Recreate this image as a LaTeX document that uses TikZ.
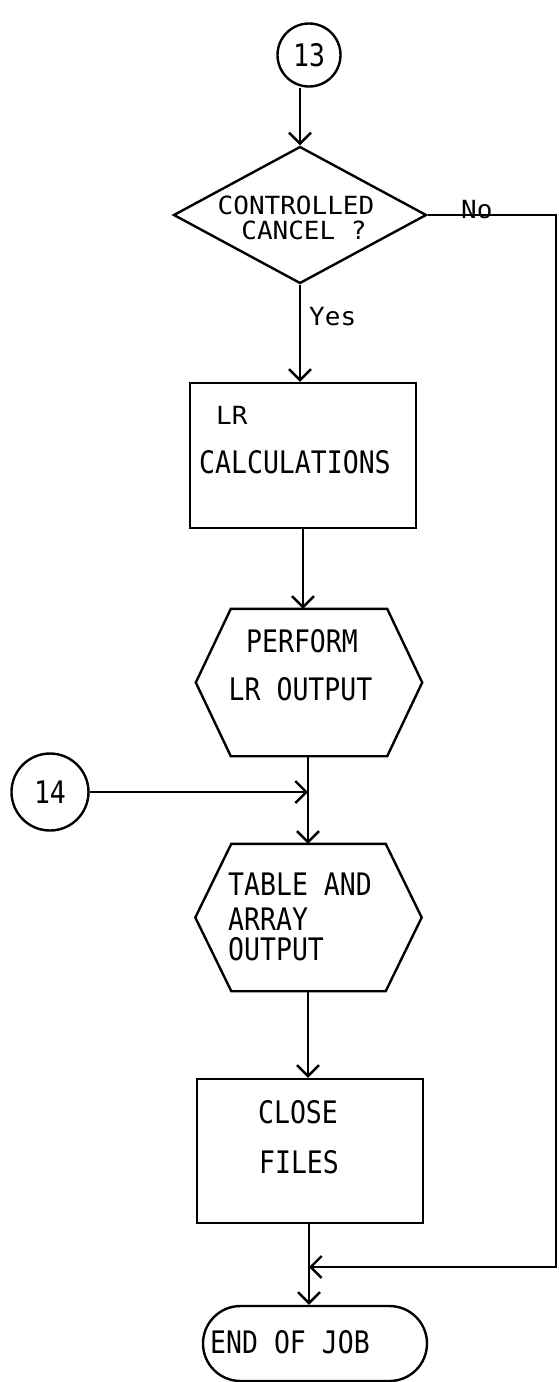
\documentclass[tikz,border=0pt]{standalone}
\usepackage{fontspec}
\setmainfont{DejaVu Sans Mono}[FakeStretch=0.855]
\newfontfamily\smallfam{DejaVu Sans Mono}[FakeStretch=1.04]
\usetikzlibrary{arrows.meta,shapes.geometric,shapes.misc}
\newcommand\bigtxt{\fontsize{31}{34}\selectfont}
\newcommand\smalltxt{\smallfam\fontsize{25}{19}\selectfont}
\begin{document}
\begin{tikzpicture}[x=1pt,y=-1pt,
  line width=2.4pt,
  arr/.style={-{Straight Barb[length=11pt,width=22pt,line width=2.4pt]}},
  box/.style={draw,rectangle,minimum width=226pt,minimum height=145pt,inner sep=0pt},
  hexbox/.style={rectangle,minimum width=224pt,minimum height=145pt,inner sep=0pt},
  conn/.style={draw,circle,inner sep=0pt,font=\bigtxt},
  txt/.style={inner sep=0pt,font=\bigtxt},
  stxt/.style={inner sep=0pt,font=\smalltxt},
]
\useasboundingbox (0,0) rectangle (559,1382);

% shapes
\node[conn,minimum size=63pt] (c13) at (309,55) {13};
\node[draw,diamond,minimum width=253pt,minimum height=137pt,inner sep=0pt] (dia) at (300,215) {};
\node[box] (lr) at (303,455.5) {};
\node[hexbox] (perf) at (309,682.5) {};
\node[conn,minimum size=77pt] (c14) at (50,792) {14};
\node[hexbox] (tab) at (308.5,917.5) {};
\node[box,minimum height=144pt] (close) at (310,1151) {};
\node[draw,rounded rectangle,minimum width=224pt,minimum height=75pt,inner sep=0pt] (end) at (315,1343.5) {};

\draw (perf.west) -- ([xshift=35pt]perf.north west) -- ([xshift=-35pt]perf.north east)
  -- (perf.east) -- ([xshift=-35pt]perf.south east) -- ([xshift=35pt]perf.south west) -- cycle;
\draw (tab.west) -- ([xshift=36pt]tab.north west) -- ([xshift=-36pt]tab.north east)
  -- (tab.east) -- ([xshift=-36pt]tab.south east) -- ([xshift=36pt]tab.south west) -- cycle;

% texts
\node[stxt,anchor=base] (t1) at (296,214) {CONTROLLED};
\node[stxt,anchor=base] (t2) at (304,239) {CANCEL ?};
\node[stxt,anchor=base west] (no) at (460,218) {No};
\node[stxt,anchor=base west] (yes) at (308,325) {Yes};
\node[stxt,anchor=base west] (t3) at (215,424) {LR};
\node[txt,anchor=base west] (t4) at (198,473) {CALCULATIONS};
\node[txt,anchor=base] (t5) at (302,652) {PERFORM};
\node[txt,anchor=base] (t6) at (300.5,700) {LR OUTPUT};
\node[txt,anchor=base west] (t7) at (227,895) {TABLE AND};
\node[txt,anchor=base west] (t8) at (227,930) {ARRAY};
\node[txt,anchor=base west] (t9) at (227,960) {OUTPUT};
\node[txt,anchor=base] (t10) at (298,1123) {CLOSE};
\node[txt,anchor=base] (t11) at (299,1173) {FILES};
\node[txt,anchor=base west] (t12) at (209,1353) {END OF JOB};

% connectors
\coordinate (j1) at (308,792);
\coordinate (j2) at (309,1267);
\coordinate (rt) at (556,222);
\draw[arr] (c13.south -| dia.north) -- (dia.north);
\draw[arr] (dia.south) -- (dia.south |- lr.north);
\draw[arr] (lr.south) -- (lr.south |- perf.north);
\draw (perf.south -| j1) -- (j1);
\draw[arr] (c14.east) -- (j1);
\draw[arr] (j1) -- (j1 |- tab.north);
\draw[arr] (tab.south -| j1) -- (j1 |- close.north);
\draw (close.south -| j2) -- (j2);
\draw[arr] (j2) -- (j2 |- end.north);
\draw[arr,line width=1.8pt] (dia.east) -- (dia.east -| rt) -- (rt |- j2) -- (j2);
\end{tikzpicture}
\end{document}
